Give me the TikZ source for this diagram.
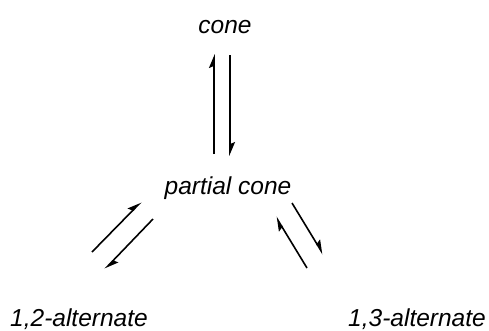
\documentclass[tikz,border=0pt]{standalone}
\usepackage{fontspec}
\setmainfont{Liberation Sans}
\usetikzlibrary{arrows.meta}
\begin{document}
\begin{tikzpicture}[x=1pt,y=-1pt,
  lbl/.style={font=\fontsize{24.5}{28}\selectfont\itshape, inner sep=0pt, anchor=base},
  harp/.style={line width=1.6pt, -{Stealth[left, length=12pt, width=10pt, inset=2pt]}}]
\useasboundingbox (0,0) rectangle (489,330);
\node[lbl] (cone) at (225,33) {cone};
\node[lbl] (partial) at (228,194) {partial cone};
\node[lbl] (alt12) at (79,326) {1,2-alternate};
\node[lbl] (alt13) at (417,326) {1,3-alternate};
% vertical pair
\coordinate (v1s) at (214,154);
\coordinate (v1e) at (214,54);
\coordinate (v2s) at (230,55);
\coordinate (v2e) at (230,156);
\draw[harp] (v1s) -- (v1e);
\draw[harp] (v2s) -- (v2e);
% left pair
\coordinate (l1s) at (92,252);
\coordinate (l1e) at (141,202);
\coordinate (l2s) at (153,219);
\coordinate (l2e) at (105,269);
\draw[harp] (l1s) -- (l1e);
\draw[harp] (l2s) -- (l2e);
% right pair
\coordinate (r1s) at (292,203);
\coordinate (r1e) at (323,254);
\coordinate (r2s) at (307,268);
\coordinate (r2e) at (276,217);
\draw[harp] (r1s) -- (r1e);
\draw[harp] (r2s) -- (r2e);
\end{tikzpicture}
\end{document}
